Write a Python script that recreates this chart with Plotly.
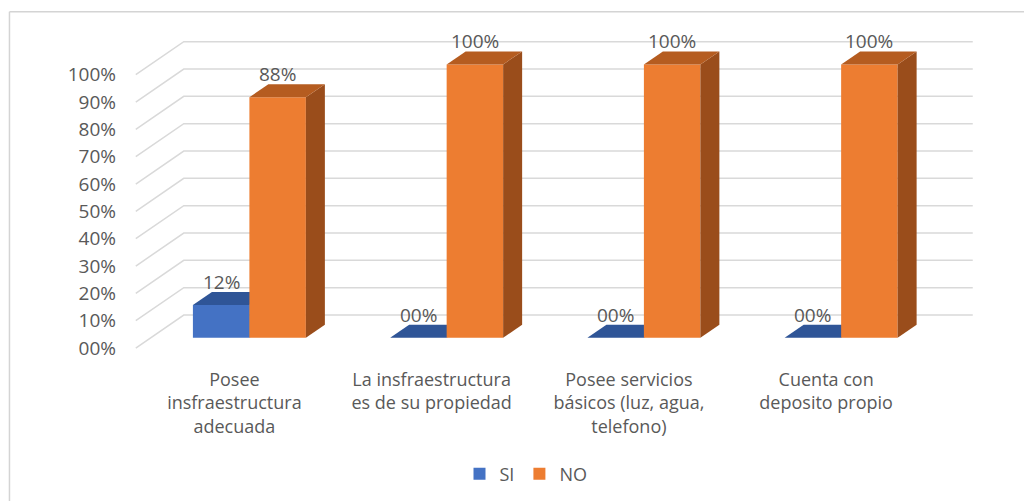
import plotly.graph_objects as go

# ---------------- data ----------------
categories = [
    "Posee<br>insfraestructura<br>adecuada",
    "La insfraestructura<br>es de su propiedad",
    "Posee servicios<br>básicos (luz, agua,<br>telefono)",
    "Cuenta con<br>deposito propio",
]
series_names = ["SI", "NO"]
si_values = [12, 0, 0, 0]
no_values = [88, 100, 100, 100]
y_ticks = [0, 10, 20, 30, 40, 50, 60, 70, 80, 90, 100]
y_tick_labels = ["%02d%%" % v for v in y_ticks]

# ---------------- style ----------------
FONT = "Open Sans"
TXT = "#595959"
GRID = "#d9d9d9"
front_colors = ["#4472C4", "#ED7D31"]
top_colors = ["#2F5597", "#B55C20"]
side_colors = ["#294C88", "#9A4D1B"]

# page body has an 8px margin, so the figure is 8px smaller than the window
W, H = 1024, 493
OFF = 8
PX_PER_CAT = 197.3
X0_PX = 234.0 - OFF     # pixel of category 0 on front plane
PX_PER_PCT = 2.73
Y0_PX = 348.0 - OFF     # pixel of 0% on front plane
XR = [-0.58, 3.78]
YR = [-4, 116]
left_px = X0_PX + XR[0] * PX_PER_CAT
right_px = X0_PX + XR[1] * PX_PER_CAT
bottom_px = Y0_PX - YR[0] * PX_PER_PCT
top_px = Y0_PX - YR[1] * PX_PER_PCT

# perspective offsets (data units)
WALL_DX = 48 / PX_PER_CAT
WALL_DY = 33 / PX_PER_PCT
BAR_OX = 15 / PX_PER_CAT
BAR_OY = 10.3 / PX_PER_PCT
BAR_DX = 19 / PX_PER_CAT
BAR_DY = 13 / PX_PER_PCT
BAR_W = 56.5 / PX_PER_CAT

fig = go.Figure()

# gridlines (base axes): front-left -> back-left -> back-right
gx, gy = [], []
for v in y_ticks:
    gx += [-0.5, -0.5 + WALL_DX, 3.5 + WALL_DX, None]
    gy += [v, v + WALL_DY, v + WALL_DY, None]
fig.add_trace(go.Scatter(x=gx, y=gy, mode="lines", line=dict(color=GRID, width=1.5),
                         hoverinfo="skip", showlegend=False))

all_vals = [si_values, no_values]
xs = list(range(len(categories)))
# each series on its own overlaying axes pair so later series paint on top
axes = [("x2", "y2"), ("x3", "y3")]
for s, vals in enumerate(all_vals):
    xa, ya = axes[s]
    fig.add_trace(go.Bar(
        x=[i + BAR_OX for i in xs], y=vals, base=BAR_OY,
        width=BAR_W, offset=(s - 1) * BAR_W,
        marker=dict(color=front_colors[s], line=dict(width=0)),
        name=series_names[s], showlegend=True, xaxis=xa, yaxis=ya))
    for i in xs:
        v = vals[i]
        x0 = i + BAR_OX + (s - 1) * BAR_W
        x1 = x0 + BAR_W
        b = BAR_OY
        t = BAR_OY + v
        fig.add_trace(go.Scatter(
            x=[x1, x1 + BAR_DX, x1 + BAR_DX, x1, x1],
            y=[b, b + BAR_DY, t + BAR_DY, t, b],
            mode="lines", fill="toself", fillcolor=side_colors[s],
            line=dict(width=0, color=side_colors[s]), hoverinfo="skip",
            showlegend=False, xaxis=xa, yaxis=ya))
        fig.add_trace(go.Scatter(
            x=[x0, x1, x1 + BAR_DX, x0 + BAR_DX, x0],
            y=[t, t, t + BAR_DY, t + BAR_DY, t],
            mode="lines", fill="toself", fillcolor=top_colors[s],
            line=dict(width=0, color=top_colors[s]), hoverinfo="skip",
            showlegend=False, xaxis=xa, yaxis=ya))

for s, vals in enumerate(all_vals):
    for i, v in enumerate(vals):
        xc = i + BAR_OX + (s - 1) * BAR_W + BAR_W / 2
        fig.add_annotation(x=xc, y=BAR_OY + v + BAR_DY, text="%02d%%" % v,
                           showarrow=False, yanchor="middle", yshift=10,
                           font=dict(family=FONT, size=19, color=TXT))

def px2paper_x(px):
    return (px - left_px) / (right_px - left_px)

def px2paper_y(py):
    return (bottom_px - py) / (bottom_px - top_px)

BX, BY = 9 - OFF, 12 - OFF
fig.add_shape(type="line", xref="paper", yref="paper",
              x0=px2paper_x(BX), y0=px2paper_y(BY), x1=px2paper_x(BX), y1=px2paper_y(H + 5),
              line=dict(color="#d4d4d4", width=1.5))
fig.add_shape(type="line", xref="paper", yref="paper",
              x0=px2paper_x(BX), y0=px2paper_y(BY), x1=px2paper_x(W + 5), y1=px2paper_y(BY),
              line=dict(color="#d4d4d4", width=1.5))

hidden = dict(showgrid=False, zeroline=False, showline=False, ticks="",
              showticklabels=False, fixedrange=True)
fig.update_layout(
    width=W, height=H,
    margin=dict(l=left_px, r=W - right_px, t=top_px, b=H - bottom_px, pad=0),
    paper_bgcolor="white", plot_bgcolor="white",
    barmode="overlay",
    font=dict(family=FONT, size=18, color=TXT),
    xaxis=dict(range=XR, tickmode="array", tickvals=xs, ticktext=categories,
               showgrid=False, zeroline=False, showline=False, ticks="",
               ticklabelstandoff=8,
               tickfont=dict(family=FONT, size=18, color=TXT), fixedrange=True),
    yaxis=dict(range=YR, tickmode="array", tickvals=y_ticks, ticktext=y_tick_labels,
               showgrid=False, zeroline=False, showline=False, ticks="",
               ticklabelstandoff=3,
               tickfont=dict(family=FONT, size=19, color=TXT), fixedrange=True),
    xaxis2=dict(range=XR, overlaying="x", matches="x", **hidden),
    yaxis2=dict(range=YR, overlaying="y", matches="y", **hidden),
    xaxis3=dict(range=XR, overlaying="x", matches="x", **hidden),
    yaxis3=dict(range=YR, overlaying="y", matches="y", **hidden),
    legend=dict(orientation="h", xref="container", yref="container",
                x=(526 - OFF) / W, y=1 - (474 - OFF) / H, xanchor="center", yanchor="middle",
                font=dict(family=FONT, size=18, color=TXT), itemwidth=30,
                bgcolor="rgba(0,0,0,0)"),
    showlegend=True,
)

fig.write_html("out.html")
